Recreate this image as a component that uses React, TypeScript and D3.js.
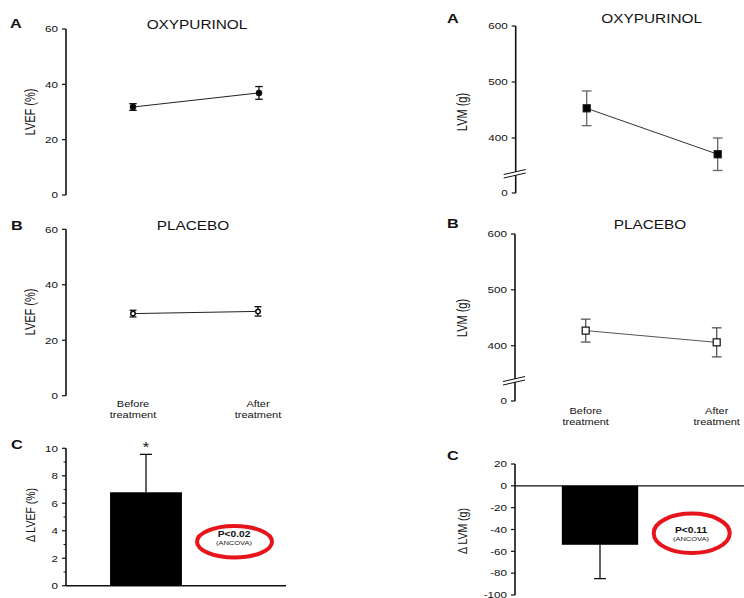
import React from "react";
import * as d3 from "d3";

const timepoints = ["Before treatment", "After treatment"];
const lvefOxyMean = [31.8, 36.9];
const lvefOxyErr = [1.2, 2.3];
const lvefPlaMean = [29.6, 30.4];
const lvefPlaErr = [1.2, 1.7];
const lvmOxyMean = [453, 371];
const lvmOxyErr = [31, 29];
const lvmPlaMean = [427, 406];
const lvmPlaErr = [20.5, 26];
const deltaCats = ["Oxypurinol"];
const deltaLvef = [6.8];
const deltaLvefErr = [2.76];
const deltaLvm = [-54];
const deltaLvmErr = [31];
const lvefTicks = [0, 20, 40, 60];
const lvmTicks = [0, 400, 500, 600];
const dLvefTicks = [0, 2, 4, 6, 8, 10];
const dLvefMinor = [1, 3, 5, 7, 9];
const dLvmTicks = [20, 0, -20, -40, -60, -80, -100];

const SX = 1.25;
const FONT = "'Liberation Sans', Arial, sans-serif";

function T({ x, y, size, children, anchor = "middle", weight = "normal", rotate = 0, fill = "#111" }: any) {
  const tr = `translate(${x},${y}) scale(${SX},1)` + (rotate ? ` rotate(${rotate})` : "");
  return (
    <text transform={tr} fontSize={size} fontFamily={FONT} fontWeight={weight} textAnchor={anchor} fill={fill}>
      {children}
    </text>
  );
}

function YAxis({ x, y, ticks, minor = [], labels }: any) {
  const r = y.range();
  const top = Math.min(...r), bot = Math.max(...r);
  return (
    <g>
      <line x1={x} x2={x} y1={top} y2={bot} stroke="#111" strokeWidth={1.6} />
      {ticks.map((t: number, i: number) => (
        <g key={"t" + i}>
          <line x1={x - 4} x2={x} y1={y(t)} y2={y(t)} stroke="#111" strokeWidth={1.2} />
          <T x={x - 8} y={y(t) + 3.3} size={9.3} anchor="end">{labels ? labels[i] : String(t)}</T>
        </g>
      ))}
      {minor.map((t: number, i: number) => (
        <line key={"m" + i} x1={x - 2.5} x2={x} y1={y(t)} y2={y(t)} stroke="#111" strokeWidth={1} />
      ))}
    </g>
  );
}

function Break({ x, yb }: any) {
  return (
    <g>
      <polygon points={`${x - 12},${yb + 3} ${x + 10},${yb - 2} ${x + 10},${yb - 5.5} ${x - 12},${yb - 0.5}`} fill="#fff" />
      <line x1={x - 12} y1={yb + 3} x2={x + 10} y2={yb - 2} stroke="#111" strokeWidth={1} />
      <line x1={x - 12} y1={yb - 0.5} x2={x + 10} y2={yb - 5.5} stroke="#111" strokeWidth={1} />
    </g>
  );
}

function Series({ xs, y, mean, err, marker, size, filled, errColor, lineColor }: any) {
  const line = d3.line<number>().x((_, i) => xs(timepoints[i])!).y((d) => y(d));
  return (
    <g>
      <path d={line(mean) || ""} fill="none" stroke={lineColor} strokeWidth={1} />
      {mean.map((m: number, i: number) => {
        const cx = xs(timepoints[i])!;
        const y1 = y(m + err[i]), y2 = y(m - err[i]);
        const cw = size * 0.55 + 1;
        return (
          <g key={i}>
            <line x1={cx} x2={cx} y1={y1} y2={y2} stroke={errColor} strokeWidth={1.3} />
            <line x1={cx - cw} x2={cx + cw} y1={y1} y2={y1} stroke={errColor} strokeWidth={1.3} />
            <line x1={cx - cw} x2={cx + cw} y1={y2} y2={y2} stroke={errColor} strokeWidth={1.3} />
            {marker === "square" ? (
              <rect x={cx - size / 2} y={y(m) - size / 2} width={size} height={size}
                fill={filled ? "#000" : "#fff"} stroke="#111" strokeWidth={1.2} />
            ) : (
              <circle cx={cx} cy={y(m)} r={size / 2} fill={filled ? "#000" : "#fff"} stroke="#111" strokeWidth={1.5} />
            )}
          </g>
        );
      })}
    </g>
  );
}

function XLabels({ xs, y }: any) {
  return (
    <g>
      {timepoints.map((t) => {
        const [a, b] = t.split(" ");
        return (
          <g key={t}>
            <T x={xs(t)} y={y} size={8.8}>{a}</T>
            <T x={xs(t)} y={y + 11} size={8.8}>{b}</T>
          </g>
        );
      })}
    </g>
  );
}

export default function App() {
  // Left column
  const xL1 = d3.scalePoint<string>().domain(timepoints).range([133, 259]);
  const yL1 = d3.scaleLinear().domain([0, 60]).range([195, 29]);
  const xL2 = d3.scalePoint<string>().domain(timepoints).range([133, 258]);
  const yL2 = d3.scaleLinear().domain([0, 60]).range([395.7, 229.3]);
  // Right column (broken axis)
  const xR1 = d3.scalePoint<string>().domain(timepoints).range([586.7, 717.7]);
  const yR1 = d3.scaleLinear().domain([0, 335, 600]).range([193, 174.4, 26]);
  const xR2 = d3.scalePoint<string>().domain(timepoints).range([585.7, 716.7]);
  const yR2 = d3.scaleLinear().domain([0, 335, 600]).range([401, 382, 234]);
  // Bottom bars
  const xB1 = d3.scaleBand<string>().domain(deltaCats).range([66, 226]).padding(0.38);
  const yB1 = d3.scaleLinear().domain([0, 10]).range([585.7, 448.3]);
  const xB2 = d3.scaleBand<string>().domain(deltaCats).range([515, 685]).padding(0.38);
  const yB2 = d3.scaleLinear().domain([-100, 20]).range([595, 464]);

  const axL = 66, axR1 = 515.7, axR2 = 515;

  return (
    <svg width={744} height={598} style={{ position: "absolute", left: 0, top: 0, background: "#fff" }}>
      <rect width={744} height={598} fill="#fff" />

      {/* Top-left */}
      <T x={10} y={28} size={13} weight="bold" anchor="start">A</T>
      <T x={197} y={29} size={12.3}>OXYPURINOL</T>
      <YAxis x={axL} y={yL1} ticks={lvefTicks} />
      <T x={35} y={112} size={11} rotate={-90}>LVEF (%)</T>
      <Series xs={xL1} y={yL1} mean={lvefOxyMean} err={lvefOxyErr} marker="circle" size={5}
        filled errColor="#111" lineColor="#222" />

      {/* Middle-left */}
      <T x={11} y={230} size={13} weight="bold" anchor="start">B</T>
      <T x={193} y={230} size={12.3}>PLACEBO</T>
      <YAxis x={axL} y={yL2} ticks={lvefTicks} />
      <T x={35} y={312} size={11} rotate={-90}>LVEF (%)</T>
      <Series xs={xL2} y={yL2} mean={lvefPlaMean} err={lvefPlaErr} marker="circle" size={4.5}
        filled={false} errColor="#111" lineColor="#222" />
      <XLabels xs={xL2} y={407} />

      {/* Top-right */}
      <T x={447} y={23} size={13} weight="bold" anchor="start">A</T>
      <T x={651.7} y={23} size={12.3}>OXYPURINOL</T>
      <YAxis x={axR1} y={yR1} ticks={lvmTicks} />
      <Break x={axR1} yb={175} />
      <T x={467} y={112} size={11} rotate={-90}>LVM (g)</T>
      <Series xs={xR1} y={yR1} mean={lvmOxyMean} err={lvmOxyErr} marker="square" size={7}
        filled errColor="#666" lineColor="#333" />

      {/* Middle-right */}
      <T x={447} y={228} size={13} weight="bold" anchor="start">B</T>
      <T x={650} y={229} size={12.3}>PLACEBO</T>
      <YAxis x={axR2} y={yR2} ticks={lvmTicks} />
      <Break x={axR2} yb={382} />
      <T x={467} y={318} size={11} rotate={-90}>LVM (g)</T>
      <Series xs={xR2} y={yR2} mean={lvmPlaMean} err={lvmPlaErr} marker="square" size={7}
        filled={false} errColor="#555" lineColor="#555" />
      <XLabels xs={xR2} y={414} />

      {/* Bottom-left */}
      <T x={11} y={449} size={13} weight="bold" anchor="start">C</T>
      <YAxis x={axL} y={yB1} ticks={dLvefTicks} minor={dLvefMinor} />
      <line x1={axL} x2={286} y1={yB1(0)} y2={yB1(0)} stroke="#111" strokeWidth={1.4} />
      <T x={35} y={515} size={10.5} rotate={-90}>Δ LVEF (%)</T>
      {deltaCats.map((c, i) => {
        const cx = xB1(c)! + xB1.bandwidth() / 2;
        return (
          <g key={c}>
            <line x1={cx} x2={cx} y1={yB1(deltaLvef[i])} y2={yB1(deltaLvef[i] + deltaLvefErr[i])} stroke="#111" strokeWidth={1.3} />
            <line x1={cx - 6} x2={cx + 6} y1={yB1(deltaLvef[i] + deltaLvefErr[i])} y2={yB1(deltaLvef[i] + deltaLvefErr[i])} stroke="#111" strokeWidth={1.3} />
            <rect x={xB1(c)} y={yB1(deltaLvef[i])} width={xB1.bandwidth()} height={yB1(0) - yB1(deltaLvef[i])} fill="#000" />
            <T x={cx} y={yB1(deltaLvef[i] + deltaLvefErr[i]) - 2} size={14}>*</T>
          </g>
        );
      })}
      <ellipse cx={234.5} cy={541.7} rx={37.5} ry={15.7} fill="none" stroke="#e8141b" strokeWidth={4} />
      <T x={234} y={537} size={8.2} weight="bold">P&lt;0.02</T>
      <T x={234} y={545} size={6}>(ANCOVA)</T>

      {/* Bottom-right */}
      <T x={447} y={460} size={13} weight="bold" anchor="start">C</T>
      <YAxis x={axR2} y={yB2} ticks={dLvmTicks} />
      <line x1={axR2} x2={744} y1={yB2(0)} y2={yB2(0)} stroke="#111" strokeWidth={1.2} />
      <T x={467} y={531} size={10.5} rotate={-90}>Δ LVM (g)</T>
      {deltaCats.map((c, i) => {
        const cx = xB2(c)! + xB2.bandwidth() / 2;
        const ye = yB2(deltaLvm[i] - deltaLvmErr[i]);
        return (
          <g key={c}>
            <line x1={cx} x2={cx} y1={yB2(deltaLvm[i])} y2={ye} stroke="#111" strokeWidth={1.3} />
            <line x1={cx - 6} x2={cx + 6} y1={ye} y2={ye} stroke="#111" strokeWidth={1.3} />
            <rect x={xB2(c)} y={yB2(0)} width={xB2.bandwidth()} height={yB2(deltaLvm[i]) - yB2(0)} fill="#000" />
          </g>
        );
      })}
      <ellipse cx={691.7} cy={533.3} rx={38} ry={19.7} fill="none" stroke="#e8141b" strokeWidth={4} />
      <T x={691} y={532.5} size={8.2} weight="bold">P&lt;0.11</T>
      <T x={691} y={540.5} size={6}>(ANCOVA)</T>
    </svg>
  );
}
